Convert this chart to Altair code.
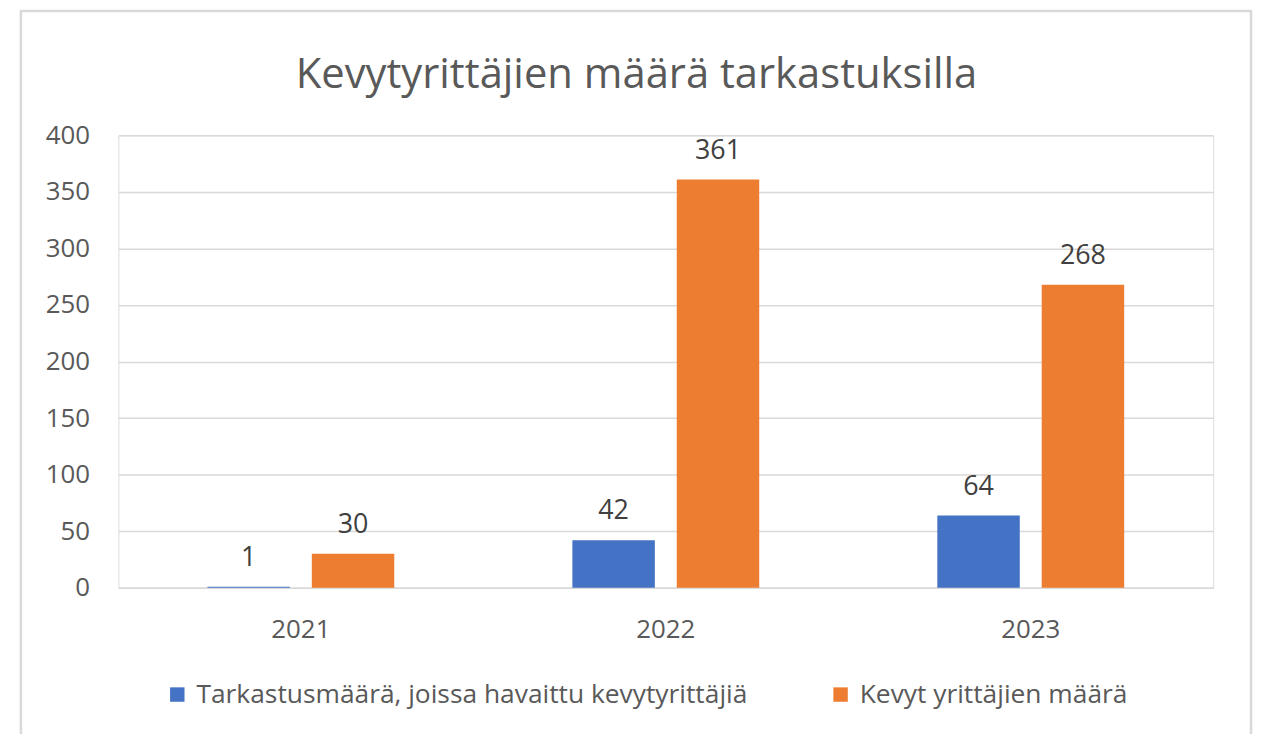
import altair as alt
import pandas as pd

years = ["2021", "2022", "2023"]
series_names = ["Tarkastusmäärä, joissa havaittu kevytyrittäjiä", "Kevyt yrittäjien määrä"]
inspections = [1, 42, 64]
entrepreneurs = [30, 361, 268]
colors = ["#4472C4", "#ED7D31"]
y_ticks = [0, 50, 100, 150, 200, 250, 300, 350, 400]
title_text = "Kevytyrittäjien määrä tarkastuksilla"

rows = []
for i, yr in enumerate(years):
    rows.append({"year": yr, "series": series_names[0], "value": inspections[i]})
    rows.append({"year": yr, "series": series_names[1], "value": entrepreneurs[i]})
df = pd.DataFrame(rows)

FONT = "Open Sans"
TXT = "#595959"
GRID = "#D9D9D9"

x = alt.X("year:N", sort=years,
          scale=alt.Scale(paddingInner=0.488, paddingOuter=0.244),
          axis=alt.Axis(title=None, labelAngle=0, labelFontSize=26, labelColor=TXT,
                        labelPadding=29, ticks=False, tickSize=0, domainColor=GRID,
                        domainWidth=1.5, labelFont=FONT, grid=False))
xo = alt.XOffset("series:N", sort=series_names,
                 scale=alt.Scale(paddingInner=0.21, paddingOuter=0))
y = alt.Y("value:Q", scale=alt.Scale(domain=[0, 400], nice=False),
          axis=alt.Axis(values=y_ticks, title=None, domain=False, ticks=False, tickSize=0,
                        labelPadding=29, gridColor=GRID, gridWidth=1.5, labelFontSize=26,
                        labelColor=TXT, labelFont=FONT))
color = alt.Color("series:N", sort=series_names,
                  scale=alt.Scale(domain=series_names, range=colors),
                  legend=alt.Legend(title=None, orient="none", legendX=46, legendY=549,
                                    direction="horizontal", symbolType="square",
                                    symbolSize=210, symbolStrokeWidth=0, labelFontSize=26.5,
                                    labelFont=FONT, labelColor=TXT, columnPadding=80,
                                    labelOffset=6, labelLimit=1000, padding=0))

bars = alt.Chart(df).mark_bar().encode(x=x, xOffset=xo, y=y, color=color)
labels = alt.Chart(df).mark_text(dy=-21, baseline="alphabetic", fontSize=27,
                                 font=FONT, color="#404040").encode(
    x=alt.X("year:N", sort=years), xOffset=alt.XOffset("series:N", sort=series_names),
    y="value:Q", text="value:Q")

border = alt.Chart(pd.DataFrame({"a": [0]})).mark_rect(
    fill="transparent", stroke=GRID, strokeWidth=2.5).encode(
    x=alt.value(-98), x2=alt.value(1139), y=alt.value(-125), y2=alt.value(700))

title = alt.Chart(pd.DataFrame({"t": [title_text]})).mark_text(
    fontSize=42, font=FONT, color=TXT, align="center", baseline="alphabetic").encode(
    x=alt.value(521), y=alt.value(-48), text="t:N")

chart = alt.layer(border, bars, labels, title).properties(
    width=1101, height=455,
    padding={"left": 111, "top": 126, "right": 40, "bottom": 145},
    autosize="none",
).configure_view(stroke=None).configure(background="white")

chart.save("out.html", embed_options={"renderer": "svg", "actions": False})
